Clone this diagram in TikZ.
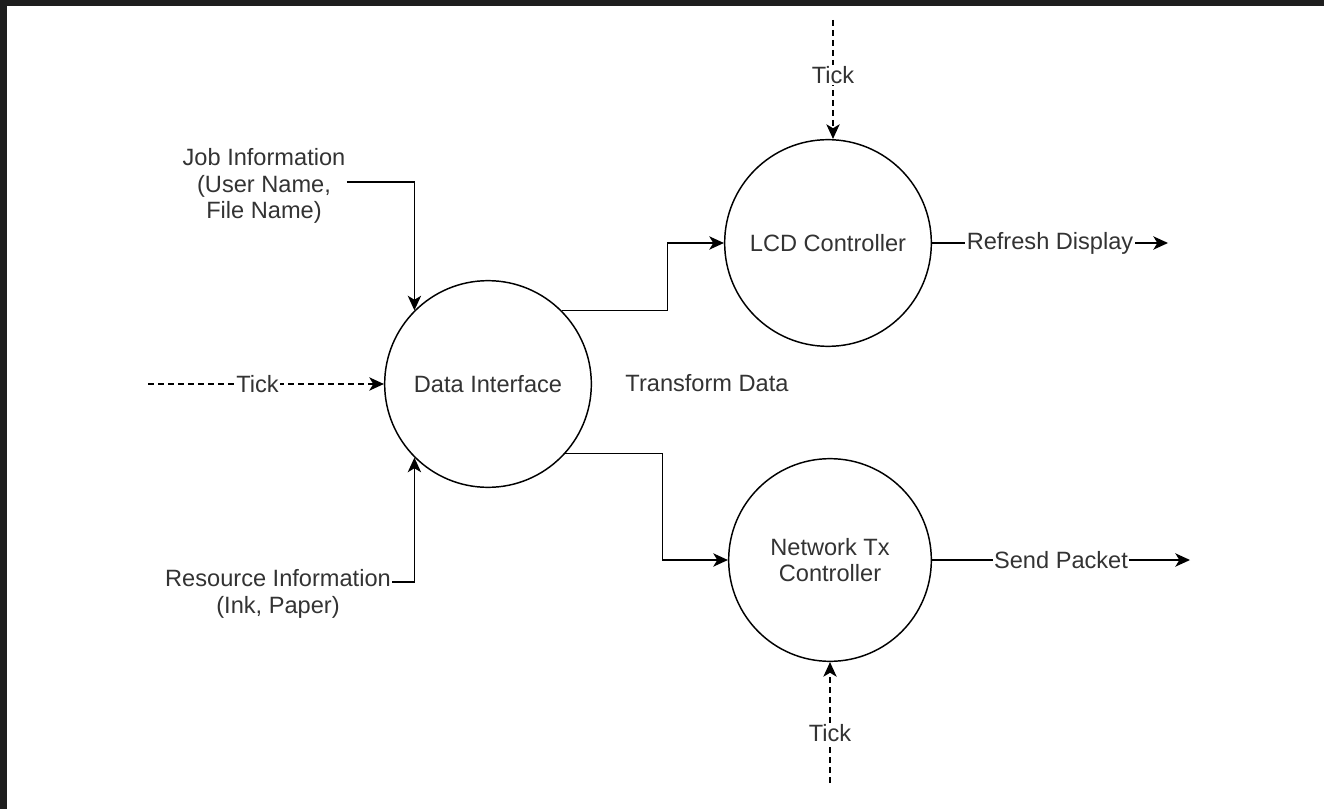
\documentclass[tikz,border=0pt]{standalone}
\usepackage{fontspec}
\setmainfont{Liberation Sans}
\usetikzlibrary{arrows.meta}
\definecolor{txt}{HTML}{333333}
\definecolor{framecol}{HTML}{1E1E1E}
\newcommand\dfont{\fontsize{17.7}{19.9}\selectfont}
\begin{document}
\begin{tikzpicture}[x=0.75pt,y=-0.75pt,
  proc/.style={circle,draw,line width=1.1pt,minimum size=155pt,inner sep=0pt,text=txt,align=center,font=\dfont},
  txtn/.style={text=txt,align=center,font=\dfont,inner sep=1pt},
  lbl/.style={fill=white,text=txt,font=\dfont,inner sep=1pt},
  arr/.style={line width=1.1pt,-{Stealth[length=11pt,width=10pt,inset=3pt]}},
  dasharr/.style={arr,dash pattern=on 4.5pt off 3pt}]
\fill[white] (0,0) rectangle (1324,809);
\useasboundingbox (0,0) rectangle (1324,809);
\fill[framecol] (0,0) rectangle (1324,6);
\fill[framecol] (0,0) rectangle (7,809);

\node[proc] (DI) at (488,384) {Data Interface};
\node[proc] (LCD) at (828,243) {LCD Controller};
\node[proc,minimum size=152pt] (NET) at (830,560) {Network Tx\\Controller};

\node[txtn] (job) at (264,186) {Job Information\\(User Name,\\File Name)};
\node[txtn] (res) at (278,594) {Resource Information\\(Ink, Paper)};
\node[txtn] (tr) at (707,383) {Transform Data};

\coordinate (tl) at (148,384);
\coordinate (tt) at (833,20);
\coordinate (tb) at (830,783);
\coordinate (rd) at (1168,243);
\coordinate (sp) at (1190,560);

\draw[arr] ([yshift=3pt]job.east) -| (DI.135);
\draw[arr] ([yshift=9pt]res.east) -| (DI.225);
\draw[dasharr] (tl) -- node[lbl,pos=0.464]{Tick} (DI.west);
\draw[arr] (DI.45) -- ++(106,0) |- (LCD.west);
\draw[arr] (DI.-42) -- ++(97,0) |- (NET.west);
\draw[dasharr] (tt) -- node[lbl,pos=0.46]{Tick} (tt |- LCD.north);
\draw[dasharr] (tb) -- node[lbl,pos=0.41]{Tick} (tb |- NET.south);
\draw[arr] (LCD.east) -- node[lbl]{Refresh Display} (rd);
\draw[arr] (NET.east) -- node[lbl]{Send Packet} (sp);
\end{tikzpicture}
\end{document}
